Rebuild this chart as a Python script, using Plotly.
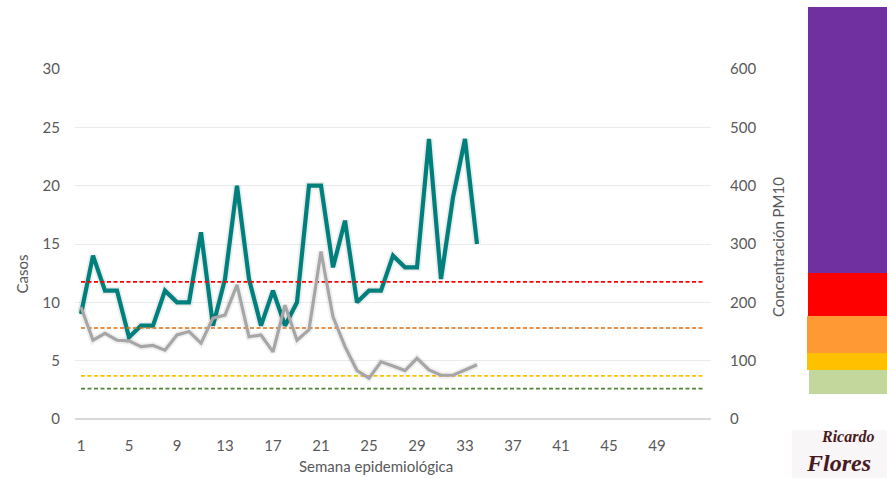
import plotly.graph_objects as go

# Epidemiological weeks shown on the category axis
weeks = list(range(1, 54))
tick_weeks = list(range(1, 53, 4))

# Weekly cases (left axis) and PM10 concentration (right axis), weeks 1-34
case_weeks = list(range(1, 35))
cases = [9, 14, 11, 11, 7, 8, 8, 11, 10, 10, 16, 8, 12, 20, 12, 8, 11, 8, 10, 20,
         20, 13, 17, 10, 11, 11, 14, 13, 13, 24, 12, 19, 24, 15]
pm10 = [192, 135, 147, 135, 134, 124, 126, 118, 144, 150, 130, 173, 178, 230, 141,
        144, 115, 195, 135, 153, 287, 175, 124, 83, 70, 98, 91, 83, 104, 84, 75, 75,
        84, 93]

# PM10 reference levels drawn as dashed lines
threshold_values = [235, 156, 74, 52]
threshold_colors = ["#FF0000", "#E36C0A", "#FFC000", "#548235"]

W, H = 887, 478
L, R, T, B = 75, 176, 69, 59
PW, PH = W - L - R, H - T - B


def px(x):
    return (x - L) / PW


def py(y):
    return (H - B - y) / PH


fig = go.Figure()

# Cases: soft halo, then the line itself (left axis)
fig.add_trace(go.Scatter(
    x=case_weeks, y=cases, mode="lines",
    line=dict(color="rgba(0,0,0,0.07)", width=8), hoverinfo="skip",
    showlegend=False))
fig.add_trace(go.Scatter(
    x=case_weeks, y=cases, mode="lines", name="Casos",
    line=dict(color="#00807C", width=4.2), showlegend=False))

# Reference levels (right axis)
for val, col in zip(threshold_values, threshold_colors):
    fig.add_trace(go.Scatter(
        x=weeks, y=[val] * len(weeks), yaxis="y2", mode="lines",
        line=dict(color=col, width=1.6, dash="4px,2.5px"),
        hoverinfo="skip", showlegend=False))

# PM10: soft halo, then the line itself (right axis)
fig.add_trace(go.Scatter(
    x=case_weeks, y=pm10, yaxis="y2", mode="lines",
    line=dict(color="rgba(0,0,0,0.06)", width=7), hoverinfo="skip",
    showlegend=False))
fig.add_trace(go.Scatter(
    x=case_weeks, y=pm10, yaxis="y2", mode="lines", name="PM10",
    line=dict(color="#A6A6A6", width=3.2), showlegend=False))

tick_font = dict(family="Lato, Carlito, sans-serif", size=15, color="#595959")

fig.update_layout(
    width=W, height=H,
    margin=dict(l=L, r=R, t=T, b=B),
    paper_bgcolor="white", plot_bgcolor="white",
    showlegend=False,
    xaxis=dict(
        range=[0.5, 53.5], tickmode="array", tickvals=tick_weeks,
        ticktext=[str(w) for w in tick_weeks], showgrid=False, zeroline=False,
        showline=False, ticks="", tickfont=tick_font, ticklabelstandoff=16,
    ),
    yaxis=dict(
        range=[0, 30], tickvals=[0, 5, 10, 15, 20, 25, 30], showgrid=True,
        gridcolor="#EBEBEB", gridwidth=1, zeroline=True, zerolinecolor="#D9D9D9",
        zerolinewidth=1.5, ticks="", tickfont=tick_font, ticklabelstandoff=14,
    ),
    yaxis2=dict(
        range=[0, 600], tickvals=[0, 100, 200, 300, 400, 500, 600],
        overlaying="y", side="right", showgrid=False, zeroline=False,
        ticks="", tickfont=tick_font, ticklabelstandoff=18,
    ),
)

# Colour scale bar for PM10 categories
bands = [
    (808, 887, 7, 273, "#7030A0"),
    (808, 887, 273, 316, "#FF0000"),
    (807, 887, 316, 353, "#FF9933"),
    (807, 887, 353, 370, "#FFC000"),
    (809, 887, 370, 394, "#C3D69B"),
]
for x0, x1, y0, y1, col in bands:
    fig.add_shape(type="rect", xref="paper", yref="paper",
                  x0=px(x0), x1=px(x1), y0=py(y1), y1=py(y0),
                  fillcolor=col, line=dict(width=0), layer="above")

# Logo background
fig.add_shape(type="rect", xref="paper", yref="paper",
              x0=px(792), x1=px(887), y0=py(478), y1=py(430),
              fillcolor="#F8F6F6", line=dict(width=0), layer="below")

title_font = dict(family="Lato, Carlito, sans-serif", size=15, color="#595959")

fig.add_annotation(text="Casos", xref="paper", yref="paper",
                   x=px(21.5), y=py(274), textangle=-90, showarrow=False,
                   font=title_font, xanchor="center", yanchor="middle")
fig.add_annotation(text="Concentración PM10", xref="paper", yref="paper",
                   x=px(778), y=py(247), textangle=-90, showarrow=False,
                   font=title_font, xanchor="center", yanchor="middle")
fig.add_annotation(text="Semana epidemiológica", xref="paper", yref="paper",
                   x=px(376), y=py(477), showarrow=False, font=title_font,
                   xanchor="center", yanchor="bottom")

logo_font = dict(family="Liberation Serif, DejaVu Serif, serif",
                 color="#4A1A22", style="italic", weight="bold")
fig.add_annotation(text="Ricardo", xref="paper", yref="paper",
                   x=px(847), y=py(447), showarrow=False,
                   font=dict(size=16, **logo_font),
                   xanchor="center", yanchor="bottom")
fig.add_annotation(text="Flores", xref="paper", yref="paper",
                   x=px(838), y=py(478), showarrow=False,
                   font=dict(size=24, **logo_font),
                   xanchor="center", yanchor="bottom")

fig.write_html("out.html")
